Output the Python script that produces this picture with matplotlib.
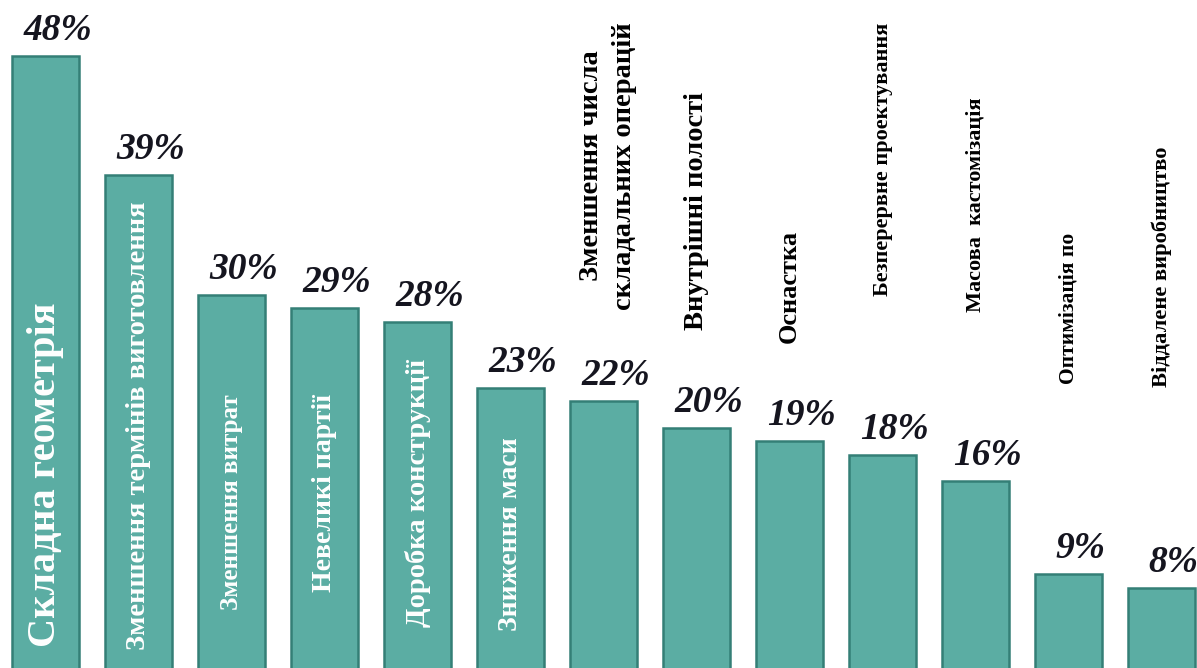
import matplotlib

matplotlib.use("Agg")
import matplotlib.pyplot as plt
import numpy as np

categories = [
    "Складна геометрія",
    "Зменшення термінів виготовлення",
    "Зменшення витрат",
    "Невеликі партії",
    "Доробка конструкції",
    "Зниження маси",
    "Зменшення числа\nскладальних операцій",
    "Внутрішні полості",
    "Оснастка",
    "Безперервне проектування",
    "Масова  кастомізація",
    "Оптимізація по",
    "Віддалене виробництво",
]
shares = [48, 39, 30, 29, 28, 23, 22, 20, 19, 18, 16, 9, 8]
pct_labels = [f"{v}%" for v in shares]

# layout: where each category label starts (data units), inside or above the bar
label_inside = [True] * 6 + [False] * 7
label_base = [3.5, 3.3, 6.3, 7.7, 5.0, 4.7, 28.9, 27.4, 26.4, 29.9, 28.7, 23.3, 23.1]
label_size = [29, 20.5, 18, 20, 20.5, 20, 20.5, 20.5, 19, 16, 16, 15.5, 16.2]
label_shift = [0, 0, 0, 0, 0, 0, 0.05, 0, 0, 0, 0, 0, 0]

BAR = "#5bada3"
EDGE = "#347f76"

fig = plt.figure(figsize=(11.97, 6.68), dpi=100)
ax = fig.add_axes([0, 0, 1, 1])
x = np.arange(len(shares))
ax.bar(x, shares, width=0.72, color=BAR, edgecolor=EDGE, linewidth=1.8)

for i, v in enumerate(shares):
    ax.text(i + 0.13, v + 0.6, pct_labels[i], ha="center", va="bottom",
            fontsize=27, fontweight="bold", fontstyle="italic",
            family="Liberation Serif", color="#15151f")

for i, name in enumerate(categories):
    inside = label_inside[i]
    ax.text(i + label_shift[i], label_base[i], name, rotation=90,
            ha="center", va="bottom", multialignment="center",
            fontsize=label_size[i], fontweight="bold",
            family="Liberation Serif", color="white" if inside else "black",
            linespacing=1.4)

ax.set_xlim(-0.49, 12.38)
ax.set_ylim(1.95, 52.2)
ax.axis("off")
fig.savefig("out.png", dpi=100)
